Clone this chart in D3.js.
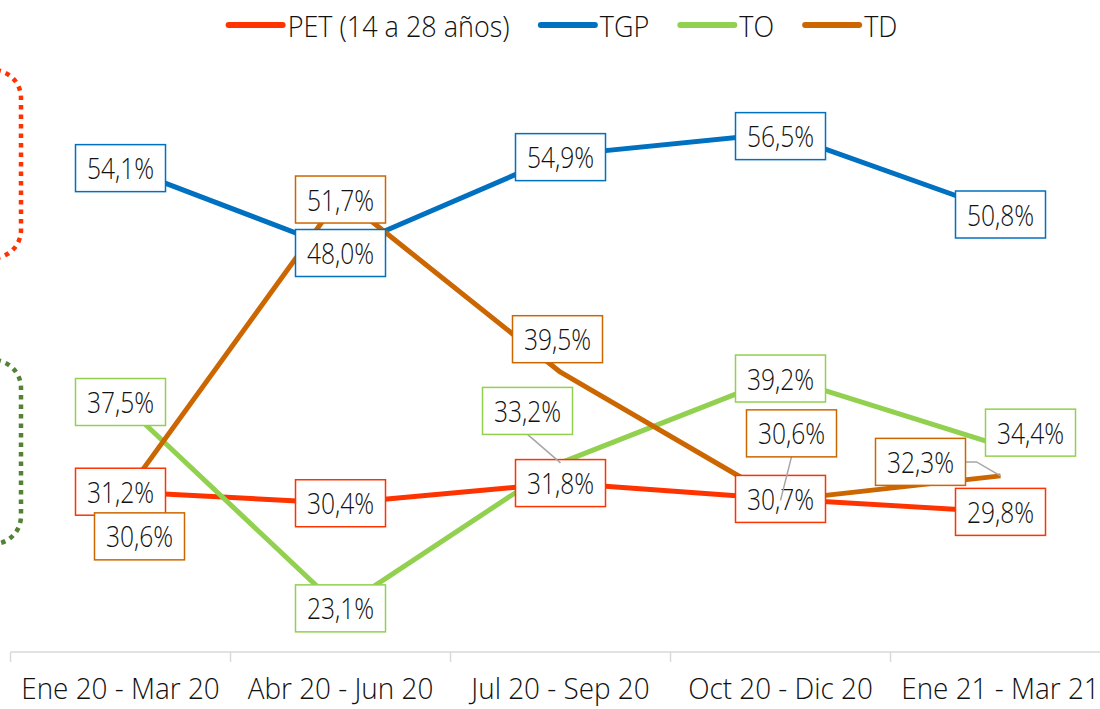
<!DOCTYPE html>
<html>
<head>
<meta charset="utf-8">
<script src="https://cdn.jsdelivr.net/npm/d3@7"></script>
<style>
  body { margin: 0; background: #fff; }
  svg { display: block; }
</style>
</head>
<body>
<div id="chart"></div>
<script>
// datos trimestrales (porcentajes)
var categories = ["Ene 20 - Mar 20", "Abr 20 - Jun 20", "Jul 20 - Sep 20", "Oct 20 - Dic 20", "Ene 21 - Mar 21"];
var seriesNames = ["PET (14 a 28 años)", "TGP", "TO", "TD"];
var pet = [31.2, 30.4, 31.8, 30.7, 29.8];
var tgp = [54.1, 48.0, 54.9, 56.5, 50.8];
var to  = [37.5, 23.1, 33.2, 39.2, 34.4];
var td  = [30.6, 51.7, 39.5, 30.6, 32.3];

var width = 1100, height = 709;
var fontFam = "'Open Sans', 'Noto Sans', sans-serif";
var fontW = 300;
var sx = 0.82;

var colores = {pet: "#ff3300", tgp: "#0070c0", to: "#92d050", td: "#cc6600"};

var svg = d3.select("#chart").append("svg")
    .attr("width", width)
    .attr("height", height);

var x = d3.scaleBand().domain(categories).range([10.5, 1110.5]).padding(0);
function cx(i){ return x(categories[i]) + x.bandwidth() / 2; }

// eje principal y secundario (TGP)
var y = d3.scaleLinear().domain([20, 60]).range([653, 77]);
var yR = d3.scaleLinear().domain([20, 60]).range([635, 85]);

var series = [
  {key: "pet", name: seriesNames[0], values: pet, scale: y},
  {key: "tgp", name: seriesNames[1], values: tgp, scale: yR},
  {key: "to",  name: seriesNames[2], values: to,  scale: y},
  {key: "td",  name: seriesNames[3], values: td,  scale: y}
];

// desplazamiento de etiquetas movidas a mano
var nudges = {
  tgp: [[0,2],[0,3],[0,2],[0,3],[0,3]],
  td:  [[19,36],[0,3],[-3,-33],[11,-67],[-80,-14]],
  to:  [[0,1],[0,0],[-33,-52],[0,2],[30,-13]]
};

// cuadros punteados a la izquierda
svg.append("rect")
    .attr("x", -60).attr("y", 70).attr("width", 81).attr("height", 188)
    .attr("rx", 28).attr("ry", 28)
    .attr("fill", "none").attr("stroke", colores.pet)
    .attr("stroke-width", 4.5).attr("stroke-dasharray", "4.5,5");
svg.append("rect")
    .attr("x", -60).attr("y", 360).attr("width", 81).attr("height", 184)
    .attr("rx", 28).attr("ry", 28)
    .attr("fill", "none").attr("stroke", "#548235")
    .attr("stroke-width", 4.5).attr("stroke-dasharray", "4.5,5");

// eje x
var axisG = svg.append("g");
axisG.append("line")
    .attr("x1", x.range()[0]).attr("x2", x.range()[1])
    .attr("y1", 652).attr("y2", 652)
    .attr("stroke", "#d9d9d9").attr("stroke-width", 1.5);
var bounds = categories.map(function(c){ return x(c); }).concat([x.range()[1]]);
axisG.selectAll(".tick")
    .data(bounds)
    .enter()
    .append("line")
    .attr("class", "tick")
    .attr("x1", function(d){ return d; })
    .attr("x2", function(d){ return d; })
    .attr("y1", 652).attr("y2", 662)
    .attr("stroke", "#d9d9d9").attr("stroke-width", 1.5);

axisG.selectAll(".cat")
    .data(categories)
    .enter()
    .append("text")
    .attr("class", "cat")
    .attr("transform", function(d,i){ return "translate(" + cx(i) + ",699) scale(0.93,1)"; })
    .attr("text-anchor", "middle")
    .attr("font-family", fontFam)
    .attr("font-weight", fontW)
    .attr("font-size", 30)
    .attr("fill", "#111")
    .text(function(d){ return d; });

// lineas
var line = d3.line();
series.forEach(function(s){
  svg.append("path")
      .attr("d", line(s.values.map(function(v,i){ return [cx(i), s.scale(v)]; })))
      .attr("fill", "none")
      .attr("stroke", colores[s.key])
      .attr("stroke-width", 5)
      .attr("stroke-linejoin", "round");
});

// etiquetas de datos
function fmt(v){ return v.toFixed(1).replace(".", ",") + "%"; }

series.forEach(function(s){
  var g = svg.append("g");
  s.values.forEach(function(v,i){
    var px = cx(i), py = s.scale(v);
    var nd = (nudges[s.key] || [])[i] || [0, 0];
    var lx = px + nd[0], ly = py + nd[1];
    var t = g.append("text")
        .attr("text-anchor", "middle")
        .attr("font-family", fontFam)
        .attr("font-weight", fontW)
        .attr("font-size", 30)
        .attr("fill", "#111")
        .text(fmt(v));
    var tw = t.node().getComputedTextLength() * sx;
    var bw = Math.max(tw + 20, 90), bh = 47;
    var bx = lx - bw / 2, by = ly - bh / 2;

    // linea guia
    if (Math.abs(nd[1]) > 40 || (Math.abs(nd[0]) > 60)) {
      var pts;
      if (py > by + bh) pts = [[lx, by + bh], [px, py]];
      else pts = [[bx + bw, ly], [bx + bw + 11, ly], [px, py]];
      g.insert("path", "text")
          .attr("d", d3.line()(pts))
          .attr("fill", "none")
          .attr("stroke", "#a6a6a6")
          .attr("stroke-width", 1.5);
    }
    g.insert("rect", "text")
        .attr("x", bx).attr("y", by)
        .attr("width", bw).attr("height", bh)
        .attr("fill", "#fff")
        .attr("stroke", colores[s.key])
        .attr("stroke-width", 1.5);
    t.attr("transform", "translate(" + lx + "," + (ly + 11) + ") scale(" + sx + ",1)");
  });
});

// leyenda
var legend = svg.append("g");
var lx0 = 0;
series.forEach(function(s){
  var it = legend.append("g");
  it.append("line")
      .attr("x1", 0).attr("x2", 54).attr("y1", 25).attr("y2", 25)
      .attr("stroke", colores[s.key]).attr("stroke-width", 6)
      .attr("stroke-linecap", "round");
  var t = it.append("text")
      .attr("font-family", fontFam)
      .attr("font-weight", fontW)
      .attr("font-size", 30)
      .attr("fill", "#111")
      .text(s.name);
  var tw = t.node().getComputedTextLength() * 0.9;
  t.attr("transform", "translate(59,37) scale(0.9,1)");
  it.attr("transform", "translate(" + lx0 + ",0)");
  lx0 += 59 + tw + 31;
});
legend.attr("transform", "translate(" + (563 - (lx0 - 31) / 2) + ",0)");
</script>
</body>
</html>
